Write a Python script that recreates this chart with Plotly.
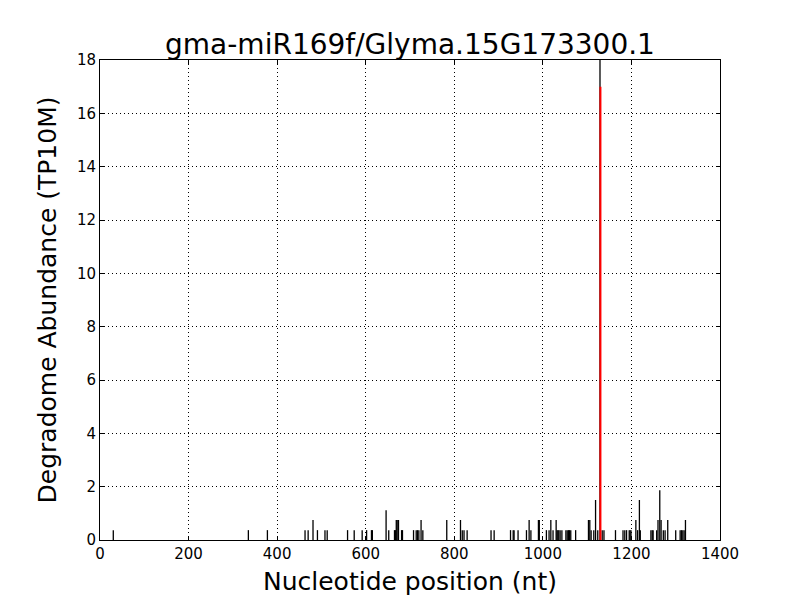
import plotly.graph_objects as go

positions = [30, 335, 378, 463, 470, 481, 491, 508, 513, 559, 574, 592, 602, 613, 615,
             646, 652, 665, 667, 669, 671, 674, 681, 683, 708, 714, 717, 720, 725, 729,
             783, 814, 818, 822, 829, 883, 890, 927, 933, 935, 944, 963, 969, 973, 990,
             992, 1008, 1014, 1018, 1023, 1030, 1032, 1034, 1036, 1039, 1043, 1052, 1055,
             1058, 1060, 1063, 1074, 1103, 1106, 1109, 1115, 1119, 1124, 1129, 1134, 1138,
             1164, 1181, 1185, 1189, 1195, 1197, 1199, 1210, 1214, 1218, 1220, 1244, 1247,
             1249, 1257, 1260, 1264, 1267, 1272, 1276, 1282, 1300, 1310, 1313, 1316, 1319, 1322]
abundance = [0.37, 0.37, 0.37, 0.37, 0.37, 0.75, 0.37, 0.37, 0.37, 0.37, 0.37, 0.37, 0.37, 0.37, 0.37,
             1.12, 0.37, 0.37, 0.37, 0.75, 0.75, 0.75, 0.37, 0.37, 0.37, 0.37, 0.37, 0.37, 0.75, 0.37,
             0.75, 0.75, 0.37, 0.37, 0.37, 0.37, 0.37, 0.37, 0.37, 0.37, 0.37, 0.37, 0.75, 0.37, 0.75,
             0.75, 0.37, 0.37, 0.75, 0.37, 0.75, 0.37, 0.37, 0.37, 0.37, 0.37, 0.37, 0.37,
             0.37, 0.37, 0.37, 0.37, 0.75, 0.75, 0.37, 0.37, 1.5, 0.37, 18.0, 0.37, 0.37,
             0.37, 0.37, 0.37, 0.37, 0.37, 0.37, 0.37, 0.75, 0.37, 1.5, 0.37, 0.37, 0.37,
             0.37, 0.37, 0.75, 1.87, 0.75, 0.37, 0.37, 0.75, 0.37, 0.37, 0.37, 0.37, 0.37, 0.75]

target_position = [1130]
target_abundance = [17.0]

xs, ys = [], []
for p, v in zip(positions, abundance):
    xs += [p, p, None]
    ys += [0, v, None]

fig = go.Figure()
fig.add_trace(go.Scatter(x=xs, y=ys, mode="lines", line=dict(color="black", width=1.3),
                         hoverinfo="skip", showlegend=False))
tx, ty = [], []
for p, v in zip(target_position, target_abundance):
    tx += [p, p, None]
    ty += [0, v, None]
fig.add_trace(go.Scatter(x=tx, y=ty, mode="lines", line=dict(color="red", width=2),
                         showlegend=False))

axis_common = dict(showline=True, linecolor="black", linewidth=1, mirror="ticks",
                   ticks="inside", ticklen=4, tickcolor="black", automargin=False,
                   showgrid=True, gridcolor="black", griddash="1px,3px", gridwidth=1,
                   zeroline=False, tickfont=dict(family="DejaVu Sans", size=15, color="black"))

# The page body has an 8px margin, so the figure is 8px smaller and margins shifted.
W, H = 792, 592
fig.update_layout(
    width=W, height=H,
    paper_bgcolor="white", plot_bgcolor="white",
    margin=dict(l=92, r=80, t=52, b=60, autoexpand=False),
    title=dict(text="gma-miR169f/Glyma.15G173300.1", x=0.5, xanchor="center",
               xref="paper", y=1 - 36 / H, yanchor="middle", automargin=False,
               font=dict(family="DejaVu Sans", size=28, color="black")),
    xaxis=dict(range=[0, 1400], dtick=200,
               title=dict(text="Nucleotide position (nt)", standoff=10,
                          font=dict(family="DejaVu Sans", size=25, color="black")),
               **axis_common),
    yaxis=dict(range=[0, 18], dtick=2,
               title=dict(text="Degradome Abundance (TP10M)", standoff=13,
                          font=dict(family="DejaVu Sans", size=25, color="black")),
               **axis_common),
)

fig.write_html("out.html")
